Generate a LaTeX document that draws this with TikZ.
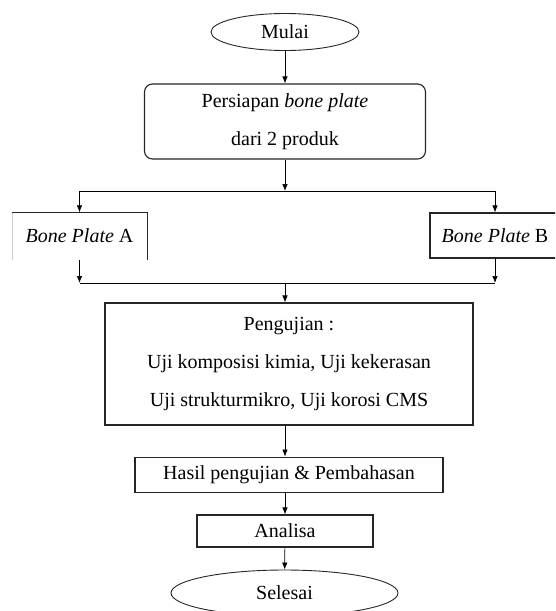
\documentclass[tikz,border=0pt]{standalone}
\usepackage{fontspec}
\setmainfont{Liberation Serif}
\usetikzlibrary{positioning,shapes.geometric,arrows.meta}

\begin{document}
\begin{tikzpicture}[x=1pt, y=-1pt, >={Latex[length=7pt,width=5.5pt]},
                font=\fontsize{20}{38}\selectfont,
                kotak/.style={draw=black!85, line width=1.1pt, inner sep=0pt, align=center},
                oval/.style={ellipse, draw=black!85, line width=0.9pt, inner sep=0pt},
                panah/.style={->, line width=0.7pt}]
                \clip (0,0) rectangle (555,611);
                \node [oval, minimum width=148pt, minimum height=37pt] (mulai) at (285,32) {Mulai};
                \node [kotak, rounded corners=8pt, minimum width=281pt, minimum height=75pt, below = 32.5pt of mulai] (persiapan) {Persiapan \textit{bone plate}\\dari 2 produk};
                \node [minimum width=135pt, minimum height=47pt, inner sep=0pt] (plateA) at (79.5,236) {\textit{Bone Plate} A};
                \node [kotak, minimum width=130pt, minimum height=45pt] (plateB) at (495,235.5) {\textit{Bone Plate} B};
                \node [kotak, minimum width=368pt, minimum height=122pt] (pengujian) at (289,364) {Pengujian :\\Uji komposisi kimia, Uji kekerasan\\Uji strukturmikro, Uji korosi CMS};
                \node [kotak, minimum width=308pt, minimum height=35pt, below = 31pt of pengujian] (hasil) {Hasil pengujian \& Pembahasan};
                \node [kotak, minimum width=176pt, minimum height=32pt] (analisa) at (285,531) {Analisa};
                \node [oval, minimum width=227pt, minimum height=46pt] (selesai) at (284.5,593) {Selesai};
                \coordinate (cabang) at (285,191);
                \coordinate (gabung) at (285,283);
                % kotak A hanya tepi atas dan kanan
                \draw [black!20, line width=0.6pt] (plateA.south west) -- (plateA.north west);
                \draw [black!85, line width=1.1pt] (plateA.north west) -- (plateA.north east) -- (plateA.south east);
                \draw [panah] (mulai) -- (persiapan);
                \draw [panah] (persiapan) -- (cabang);
                \draw [panah] (cabang) -| (plateA);
                \draw [panah] (cabang) -| (plateB);
                \draw [line width=0.7pt] (plateA.south |- gabung) -- (plateB.south |- gabung);
                \draw [panah] (plateA.south) -- (plateA.south |- gabung);
                \draw [panah] (plateB.south) -- (plateB.south |- gabung);
                \draw [panah] (gabung) -- (gabung |- pengujian.north);
                \draw [panah] (mulai |- pengujian.south) -- (mulai |- hasil.north);
                \draw [panah] (mulai |- hasil.south) -- (mulai |- analisa.north);
                \draw [panah] (analisa) -- (selesai);
            \end{tikzpicture}
\end{document}
